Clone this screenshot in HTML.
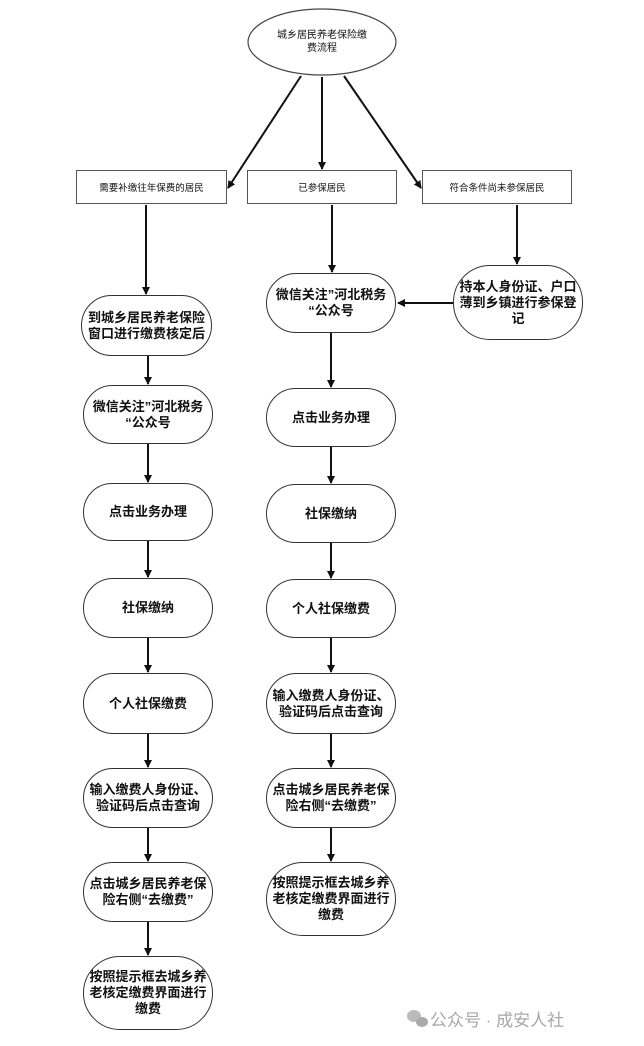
<!DOCTYPE html>
<html><head><meta charset="utf-8"><style>
body{margin:0;width:644px;height:1046px;background:#fff;position:relative;overflow:hidden;font-family:"Liberation Sans","Noto Sans CJK SC",sans-serif;}
.n{position:absolute;border:1.3px solid #333;border-radius:32px;background:#fff;box-sizing:border-box;display:flex;align-items:center;justify-content:center;text-align:center;font-weight:bold;font-size:13px;line-height:16px;color:#111;padding:0;white-space:nowrap;}
.r{position:absolute;border:1.3px solid #555;background:#fff;box-sizing:border-box;display:flex;align-items:center;justify-content:center;font-size:9.5px;color:#111;top:170px;height:34px;white-space:nowrap;}
svg{position:absolute;left:0;top:0;}
</style></head><body>
<svg width="644" height="1046">
<defs><marker id="a" markerWidth="8" markerHeight="8" refX="7" refY="4" orient="auto" markerUnits="userSpaceOnUse"><path d="M0,0 L8,4 L0,8 z" fill="#111"/></marker></defs>
<g stroke="#111" stroke-width="2" fill="none">
<ellipse cx="322" cy="42" rx="74" ry="33" stroke-width="1.2" stroke="#444"/>
<line x1="301" y1="76" x2="228" y2="188" marker-end="url(#a)"/>
<line x1="322" y1="77" x2="322" y2="169" marker-end="url(#a)"/>
<line x1="344" y1="76" x2="421" y2="188" marker-end="url(#a)"/>
<line x1="146" y1="205" x2="146" y2="294" marker-end="url(#a)"/>
<line x1="332" y1="205" x2="332" y2="272" marker-end="url(#a)"/>
<line x1="517" y1="205" x2="517" y2="264" marker-end="url(#a)"/>
<line x1="453" y1="303" x2="398" y2="303" marker-end="url(#a)"/>
<line x1="148" y1="356" x2="148" y2="384" marker-end="url(#a)"/>
<line x1="148" y1="444" x2="148" y2="482" marker-end="url(#a)"/>
<line x1="148" y1="541" x2="148" y2="577" marker-end="url(#a)"/>
<line x1="148" y1="638" x2="148" y2="672" marker-end="url(#a)"/>
<line x1="148" y1="734" x2="148" y2="767" marker-end="url(#a)"/>
<line x1="148" y1="828" x2="148" y2="861" marker-end="url(#a)"/>
<line x1="148" y1="922" x2="148" y2="955" marker-end="url(#a)"/>
<line x1="331" y1="333" x2="331" y2="387" marker-end="url(#a)"/>
<line x1="331" y1="447" x2="331" y2="483" marker-end="url(#a)"/>
<line x1="331" y1="543" x2="331" y2="578" marker-end="url(#a)"/>
<line x1="331" y1="638" x2="331" y2="672" marker-end="url(#a)"/>
<line x1="331" y1="734" x2="331" y2="767" marker-end="url(#a)"/>
<line x1="331" y1="828" x2="331" y2="861" marker-end="url(#a)"/>
</g>
<text x="322" y="38" font-size="10" text-anchor="middle" fill="#111" font-family="Liberation Sans,Noto Sans CJK SC,sans-serif">城乡居民养老保险缴</text>
<text x="322" y="51" font-size="10" text-anchor="middle" fill="#111" font-family="Liberation Sans,Noto Sans CJK SC,sans-serif">费流程</text>
<g transform="translate(418,1019)" fill="#bbb"><ellipse cx="-4" cy="-3" rx="7" ry="6"/><ellipse cx="4" cy="3" rx="6" ry="5" fill="#aaa"/></g>
<text x="430" y="1026" font-size="17" fill="#a8a8a8" font-family="Liberation Sans,Noto Sans CJK SC,sans-serif">公众号 · 成安人社</text>
</svg>
<div class="r" style="left:76px;width:151px">需要补缴往年保费的居民</div>
<div class="r" style="left:247px;width:150px">已参保居民</div>
<div class="r" style="left:422px;width:150px">符合条件尚未参保居民</div>

<div class="n" style="left:81px;top:295px;width:131px;height:61px">到城乡居民养老保险<br>窗口进行缴费核定后</div>
<div class="n" style="left:83px;top:385px;width:130px;height:59px">微信关注”河北税务<br>“公众号</div>
<div class="n" style="left:83px;top:483px;width:130px;height:58px">点击业务办理</div>
<div class="n" style="left:83px;top:578px;width:130px;height:60px">社保缴纳</div>
<div class="n" style="left:83px;top:673px;width:130px;height:61px">个人社保缴费</div>
<div class="n" style="left:83px;top:768px;width:130px;height:60px">输入缴费人身份证、<br>验证码后点击查询</div>
<div class="n" style="left:83px;top:862px;width:130px;height:60px">点击城乡居民养老保<br>险右侧“去缴费”</div>
<div class="n" style="left:83px;top:956px;width:130px;height:74px;border-radius:37px">按照提示框去城乡养<br>老核定缴费界面进行<br>缴费</div>

<div class="n" style="left:266px;top:273px;width:130px;height:60px">微信关注”河北税务<br>“公众号</div>
<div class="n" style="left:266px;top:388px;width:130px;height:59px">点击业务办理</div>
<div class="n" style="left:266px;top:484px;width:130px;height:59px">社保缴纳</div>
<div class="n" style="left:266px;top:579px;width:130px;height:59px">个人社保缴费</div>
<div class="n" style="left:266px;top:673px;width:130px;height:61px">输入缴费人身份证、<br>验证码后点击查询</div>
<div class="n" style="left:266px;top:768px;width:130px;height:60px">点击城乡居民养老保<br>险右侧“去缴费”</div>
<div class="n" style="left:266px;top:862px;width:130px;height:74px;border-radius:37px">按照提示框去城乡养<br>老核定缴费界面进行<br>缴费</div>

<div class="n" style="left:453px;top:265px;width:130px;height:75px;border-radius:37px">持本人身份证、户口<br>薄到乡镇进行参保登<br>记</div>
</body></html>
